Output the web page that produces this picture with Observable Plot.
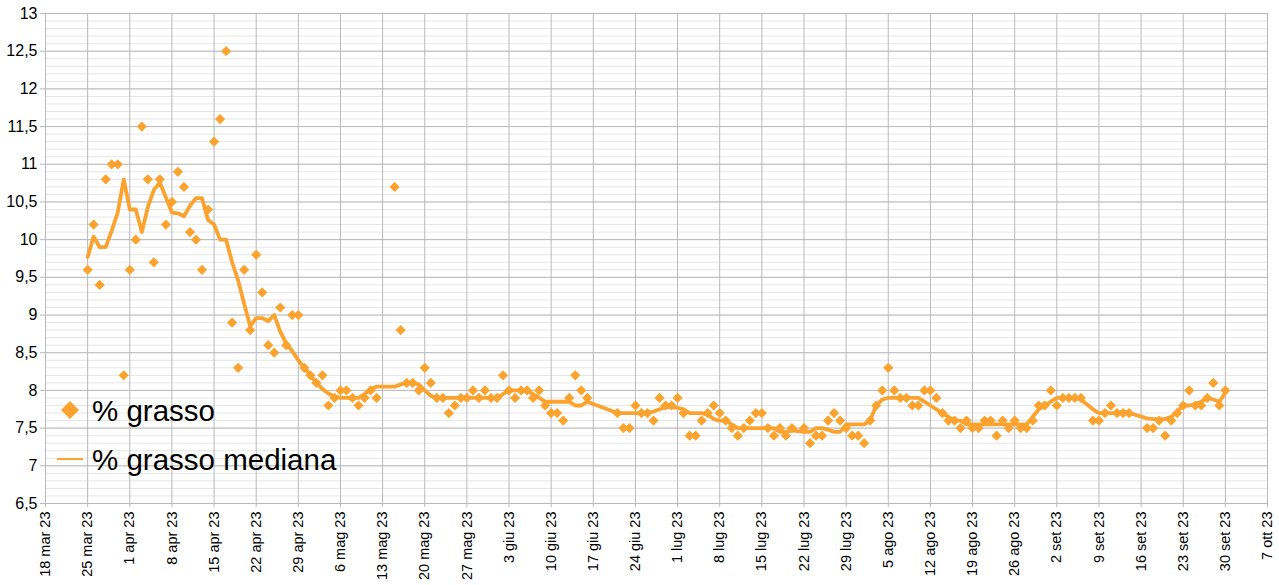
<!DOCTYPE html>
<html>
<head>
<meta charset="utf-8">
<script src="https://cdn.jsdelivr.net/npm/d3@7"></script>
<script src="https://cdn.jsdelivr.net/npm/@observablehq/plot@0.6"></script>
<style>
  html, body { margin: 0; padding: 0; background: #fff; }
  #wrap { position: relative; width: 1279px; height: 585px; font-family: "Liberation Sans", Arial, sans-serif; }
  #legend { position: absolute; left: 0; top: 0; pointer-events: none; }
  .lg-row { position: absolute; left: 92px; font-size: 29.5px; line-height: 1; color: #000; white-space: nowrap; }
</style>
</head>
<body>
<div id="wrap">
  <div id="chart"></div>
  <div id="legend"></div>
</div>
<script>
// ---- data (day offset from 25 mar 23) ----
const days = [0,1,2,3,4,5,6,7,8,9,10,11,12,13,14,15,16,17,18,19,20,21,22,23,24,25,26,27,28,29,30,31,32,33,34,35,36,37,38,39,40,41,42,43,44,45,46,47,48,
  51,52,53,54,55,56,57,58,59,60,61,62,63,64,65,66,67,68,69,70,71,72,73,74,75,76,77,78,79,80,81,82,83,
  88,89,90,91,92,93,94,95,96,97,98,99,100,101,102,103,104,105,106,107,108,109,110,111,112,113,114,115,116,117,
  119,120,121,122,123,124,125,126,127,128,129,130,131,132,133,134,135,136,137,138,139,140,141,142,143,144,145,146,147,148,149,150,151,152,153,154,155,156,157,158,159,160,161,162,163,164,165,
  167,168,169,170,171,172,173,176,177,178,179,180,181,182,183,184,185,186,187,188,189];

const grasso = [9.6,10.2,9.4,10.8,11.0,11.0,8.2,9.6,10.0,11.5,10.8,9.7,10.8,10.2,10.5,10.9,10.7,10.1,10.0,9.6,10.4,11.3,11.6,12.5,8.9,8.3,9.6,8.8,9.8,9.3,8.6,8.5,9.1,8.6,9.0,9.0,8.3,8.2,8.1,8.2,7.8,7.9,8.0,8.0,7.9,7.8,7.9,8.0,7.9,
  10.7,8.8,8.1,8.1,8.0,8.3,8.1,7.9,7.9,7.7,7.8,7.9,7.9,8.0,7.9,8.0,7.9,7.9,8.2,8.0,7.9,8.0,8.0,7.9,8.0,7.8,7.7,7.7,7.6,7.9,8.2,8.0,7.9,
  7.7,7.5,7.5,7.8,7.7,7.7,7.6,7.9,7.8,7.8,7.9,7.7,7.4,7.4,7.6,7.7,7.8,7.7,7.6,7.5,7.4,7.5,7.6,7.7,7.7,7.5,7.4,7.5,7.4,7.5,
  7.5,7.3,7.4,7.4,7.6,7.7,7.6,7.5,7.4,7.4,7.3,7.6,7.8,8.0,8.3,8.0,7.9,7.9,7.8,7.8,8.0,8.0,7.9,7.7,7.6,7.6,7.5,7.6,7.5,7.5,7.6,7.6,7.4,7.6,7.5,7.6,7.5,7.5,7.6,7.8,7.8,8.0,7.8,7.9,7.9,7.9,7.9,
  7.6,7.6,7.7,7.8,7.7,7.7,7.7,7.5,7.5,7.6,7.4,7.6,7.7,7.8,8.0,7.8,7.8,7.9,8.1,7.8,8.0];

const mediana = [9.77,10.04,9.9,9.9,10.12,10.36,10.8,10.4,10.4,10.1,10.43,10.66,10.76,10.56,10.36,10.35,10.31,10.45,10.55,10.55,10.26,10.2,10.0,10.0,9.7,9.46,9.15,8.85,8.96,8.96,8.92,9.0,8.78,8.62,8.52,8.4,8.3,8.2,8.1,8.02,7.96,7.92,7.9,7.9,7.9,7.9,7.95,8.02,8.05,
  8.05,8.08,8.1,8.1,8.08,8.0,7.93,7.9,7.9,7.9,7.9,7.9,7.9,7.9,7.9,7.9,7.9,7.9,7.95,8.0,8.0,8.0,8.0,7.95,7.9,7.85,7.85,7.85,7.85,7.85,7.8,7.8,7.85,
  7.7,7.7,7.7,7.7,7.7,7.7,7.72,7.75,7.78,7.78,7.77,7.75,7.7,7.7,7.7,7.68,7.62,7.6,7.6,7.55,7.5,7.5,7.5,7.5,7.5,7.5,7.5,7.45,7.45,7.47,
  7.45,7.45,7.5,7.5,7.48,7.45,7.45,7.55,7.55,7.55,7.55,7.6,7.8,7.88,7.9,7.9,7.9,7.9,7.9,7.9,7.85,7.8,7.75,7.7,7.65,7.6,7.6,7.55,7.55,7.55,7.55,7.55,7.55,7.55,7.55,7.55,7.55,7.55,7.65,7.75,7.8,7.85,7.9,7.9,7.9,7.9,7.88,
  7.75,7.7,7.7,7.7,7.7,7.72,7.7,7.63,7.62,7.62,7.62,7.65,7.72,7.8,7.8,7.82,7.85,7.9,7.88,7.85,7.97];

const yTicks = [6.5,7,7.5,8,8.5,9,9.5,10,10.5,11,11.5,12,12.5,13];
const monthNames = ["gen","feb","mar","apr","mag","giu","lug","ago","set","ott","nov","dic"];
const seriesNames = ["% grasso", "% grasso mediana"];

// ---- build ----
const DAY = 864e5;
const base = Date.UTC(2023, 2, 25);
const xStart = new Date(Date.UTC(2023, 2, 18));
const xEnd = new Date(Date.UTC(2023, 9, 7));
const rows = days.map((d, i) => ({date: new Date(base + d * DAY), grasso: grasso[i], mediana: mediana[i]}));
const xTicks = d3.utcDay.range(xStart, new Date(+xEnd + 1), 7);
const minorTicks = d3.range(65, 131).map(v => v / 10);
const fmtX = d => `${d.getUTCDate()} ${monthNames[d.getUTCMonth()]} ${String(d.getUTCFullYear()).slice(2)}`;
const fmtY = v => String(v).replace(".", ",");
const orange = "#fca32f";

const chart = Plot.plot({
  width: 1279, height: 585,
  marginTop: 13, marginBottom: 82, marginLeft: 45, marginRight: 12,
  style: {fontFamily: "'Liberation Sans', Arial, sans-serif", fontSize: "14.5px", color: "#000", background: "#fff"},
  x: {type: "utc", domain: [xStart, xEnd]},
  y: {domain: [6.5, 13]},
  marks: [
    Plot.gridY(minorTicks, {stroke: "#e6e6e6", strokeOpacity: 1}),
    Plot.gridY(yTicks, {stroke: "#b9b9bd", strokeOpacity: 1}),
    Plot.gridX(xTicks, {stroke: "#b9b9bd", strokeOpacity: 1}),
    Plot.axisY(yTicks, {tickFormat: fmtY, tickSize: 5, tickPadding: 3, fontSize: 16, stroke: "#b9b9bd", label: null}),
    Plot.axisX(xTicks, {tickFormat: fmtX, tickRotate: -90, tickSize: 4, tickPadding: 4, stroke: "#b9b9bd", label: null}),
    Plot.line(rows, {x: "date", y: "mediana", stroke: orange, strokeWidth: 3.8, curve: "linear"}),
    Plot.dot(rows, {x: "date", y: "grasso", symbol: "diamond2", r: 4.6, fill: orange, stroke: "none"})
  ]
});
document.getElementById("chart").appendChild(chart);

// ---- legend overlay ----
const lg = document.getElementById("legend");
lg.innerHTML = `
  <svg width="1279" height="585" style="position:absolute;left:0;top:0">
    <path d="M70,401 L79,410 L70,419 L61,410 Z" fill="${orange}"/>
    <line x1="57" x2="83" y1="459" y2="459" stroke="${orange}" stroke-width="2"/>
  </svg>
  <div class="lg-row" style="top:396px">${seriesNames[0]}</div>
  <div class="lg-row" style="top:445px">${seriesNames[1]}</div>`;
</script>
</body>
</html>
